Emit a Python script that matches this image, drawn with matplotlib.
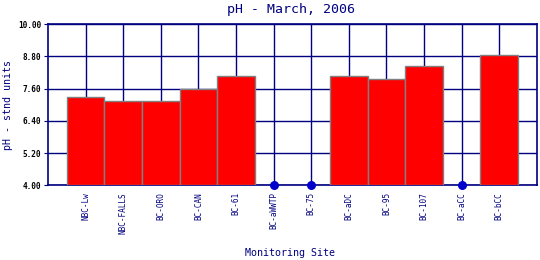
import matplotlib
matplotlib.use("Agg")
import matplotlib.pyplot as plt
import numpy as np

# pH readings by monitoring site, March 2006 (None = no sample)
sites = ["NBC-Lw", "NBC-FALLS", "BC-ORO", "BC-CAN", "BC-61", "BC-aWWTP",
         "BC-75", "BC-aDC", "BC-95", "BC-107", "BC-aCC", "BC-bCC"]
ph = [7.30, 7.13, 7.13, 7.60, 8.08, None, None, 8.08, 7.95, 8.46, None, 8.85]
yticks = [4.00, 5.20, 6.40, 7.60, 8.80, 10.00]

navy = "#000080"
plt.rcParams["font.family"] = ["DejaVu Sans Mono"]

fig = plt.figure(figsize=(5.4, 2.6), dpi=100)
ax = fig.add_axes([0.089, 0.287, 0.905, 0.62])

x = np.arange(len(sites))
have = [i for i, v in enumerate(ph) if v is not None]
missing = [i for i, v in enumerate(ph) if v is None]

ax.bar([x[i] for i in have], [ph[i] - 4.0 for i in have], bottom=4.0,
       width=1.0, color="#ff0000", edgecolor="#808080", linewidth=1.0, zorder=3)
ax.scatter([x[i] for i in missing], [4.0] * len(missing), s=30,
           color="#0000cc", zorder=5, clip_on=False)

ax.set_xlim(-1, len(sites))
ax.set_ylim(4.0, 10.0)
ax.set_xticks(x)
ax.set_xticklabels(sites, rotation=90, fontsize=5.6, color=navy)
ax.set_yticks(yticks)
ax.set_yticklabels([f"{t:.2f}" for t in yticks], fontsize=5.6, color="black",
                   fontweight="bold")
ax.grid(True, color=navy, linewidth=1.0, zorder=0)
ax.set_axisbelow(True)
for s in ax.spines.values():
    s.set_color(navy)
    s.set_linewidth(1.2)
ax.tick_params(axis="x", length=0, pad=5)
ax.tick_params(axis="y", length=3, color=navy, pad=2)

fig.text(291 / 540, 1 - 10 / 260, "pH - March, 2006", fontsize=9.5,
         color=navy, ha="center", va="center")
fig.text(8 / 540, 1 - 105 / 260, "pH - stnd units", fontsize=7.2,
         color=navy, rotation=90, ha="center", va="center")
fig.text(290 / 540, 1 - 253 / 260, "Monitoring Site", fontsize=7.2,
         color=navy, ha="center", va="center")

fig.savefig("out.png", dpi=100)
